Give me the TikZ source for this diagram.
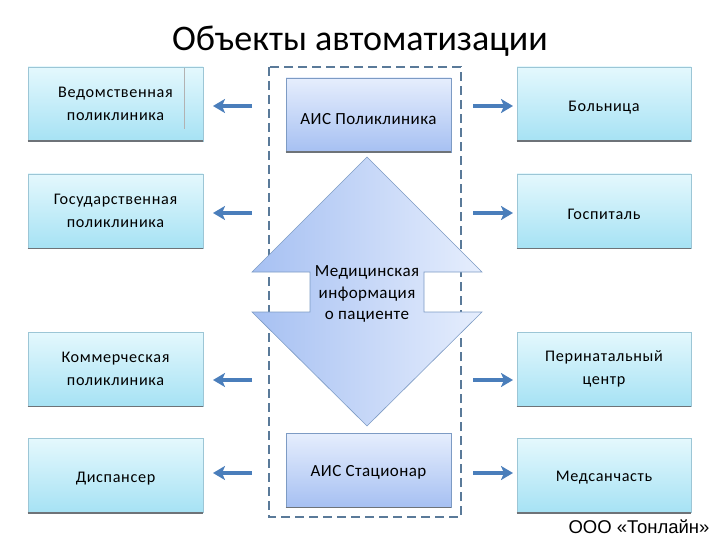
\documentclass[tikz,border=0pt]{standalone}
\usepackage{fontspec}
\setmainfont{Carlito}
\newfontfamily\arialf{Liberation Sans}
\usetikzlibrary{arrows.meta}
\definecolor{cyanTop}{HTML}{E4F8FD}
\definecolor{cyanBot}{HTML}{A6E2F4}
\definecolor{boxEdge}{HTML}{9CC6D6}
\definecolor{blueTop}{HTML}{E6EEFD}
\definecolor{blueBot}{HTML}{A6C0F2}
\definecolor{blueEdge}{HTML}{7D9BC4}
\definecolor{arrowBlue}{HTML}{4A7EBB}
\definecolor{dashCol}{HTML}{5A7A99}
\definecolor{shadowCol}{HTML}{6E7378}
\newcommand{\lowr}[2]{\raisebox{-#1}[\height][\depth]{#2}}
\tikzset{
  obox/.style={draw=boxEdge, line width=0.6pt, top color=cyanTop, bottom color=cyanBot,
    minimum height=74pt, inner sep=0pt, align=center,
    font=\fontsize{16.2}{23}\selectfont\addfontfeatures{LetterSpace=4}},
  abox/.style={draw=blueEdge, line width=0.6pt, top color=blueTop, bottom color=blueBot,
    minimum width=165pt, minimum height=74pt, inner sep=0pt, align=center,
    font=\fontsize{17}{22.5}\selectfont\addfontfeatures{LetterSpace=2.5}},
  shadowline/.style={draw=shadowCol, line width=1.6pt},
  bigarrow/.style={draw=arrowBlue, line width=4.5pt, -{Stealth[length=12pt,width=14pt,inset=3pt]}},
  dashframe/.style={draw=dashCol, line width=2pt, dash pattern=on 9pt off 5pt}
}
\begin{document}
\begin{tikzpicture}[x=1pt,y=-1pt]
\useasboundingbox (0,0) rectangle (720,540);
\node[font=\fontsize{36}{40}\selectfont] (title) at (360,41) {Объекты автоматизации};

% left boxes
\node[obox, minimum width=175pt] (l1) at (115.5,104) {Ведомственная\\поликлиника};
\node[obox, minimum width=175pt] (l2) at (115.5,211) {Государственная\\поликлиника};
\node[obox, minimum width=175pt] (l3) at (115.5,369) {Коммерческая\\поликлиника};
\node[obox, minimum width=175pt] (l4) at (115.5,475.5) {\lowr{3pt}{Диспансер}};
% right boxes
\node[obox, minimum width=174pt] (r1) at (604,104) {\lowr{4pt}{Больница}};
\node[obox, minimum width=174pt] (r2) at (604,211) {\lowr{3pt}{Госпиталь}};
\node[obox, minimum width=174pt] (r3) at (604,369) {Перинатальный\\центр};
\node[obox, minimum width=174pt] (r4) at (604,475.5) {\lowr{2pt}{Медсанчасть}};
\foreach \n in {l1,l2,l3,l4,r1,r2,r3,r4}{
  \draw[shadowline] (\n.south west) -- (\n.south east);
}
\draw[gray!60, line width=0.6pt] (184,68) -- (184,129);

% dashed frame
\draw[dashframe] (269,67) rectangle (461,517);

% AIS boxes
\node[abox] (ais1) at (368.5,115) {\lowr{4pt}{АИС Поликлиника}};
\node[abox] (ais2) at (368.5,470) {\lowr{2pt}{АИС Стационар}};
\foreach \n in {ais1,ais2}{
  \draw[shadowline] (\n.south west) -- (\n.south east);
}

% double arrow
\path[draw=blueEdge, line width=0.6pt, left color=blueBot, right color=blueTop]
  (367,157) -- (482,272) -- (424,272) -- (424,312) -- (482,312) -- (367,426)
  -- (252,312) -- (310,312) -- (310,272) -- (252,272) -- cycle;
\node[align=center, font=\fontsize{17}{21.5}\selectfont\addfontfeatures{LetterSpace=2.5}] (info) at (367,294)
  {Медицинская\\информация\\о пациенте};

% arrow coordinates
\foreach \i/\y in {1/106,2/213,3/380,4/473}{
  \coordinate (ls\i) at (252,\y);
  \coordinate (le\i) at (213,\y);
  \coordinate (rs\i) at (473,\y);
  \coordinate (re\i) at (513,\y);
  \draw[bigarrow] (ls\i) -- (le\i);
  \draw[bigarrow] (rs\i) -- (re\i);
}

\node[font=\arialf\fontsize{18.5}{20}\selectfont, anchor=east] (firm) at (713,527) {ООО «Тонлайн»};
\end{tikzpicture}
\end{document}
